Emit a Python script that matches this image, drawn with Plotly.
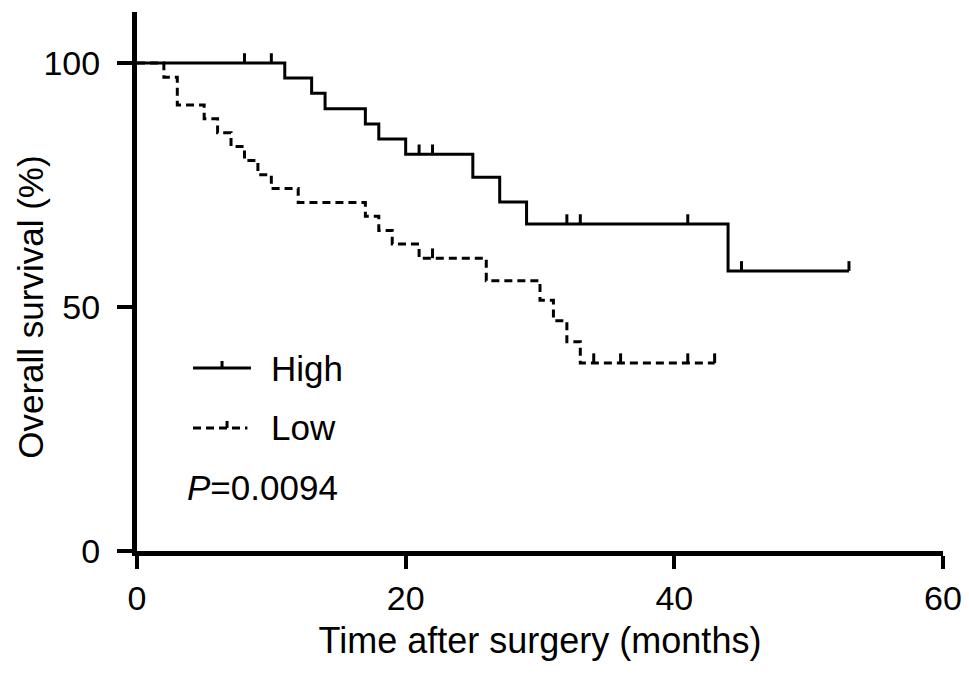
import plotly.graph_objects as go

# ---- data ----
high_times = [0, 11, 13, 14, 17, 18, 20, 25, 27, 29, 44, 53]
high_surv = [100, 96.9, 93.8, 90.6, 87.5, 84.4, 81.3, 76.6, 71.5, 67.0, 57.4, 57.4]
high_censor = [8, 10, 21, 22, 32, 33, 41, 45, 53]

low_times = [0, 2, 3, 5, 6, 7, 8, 9, 10, 12, 17, 18, 19, 21, 26, 30, 31, 32, 33, 43]
low_surv = [100, 97.1, 91.4, 88.6, 85.7, 82.9, 80.0, 77.1, 74.3, 71.4, 68.6, 65.7,
            62.9, 60.0, 55.4, 51.4, 47.2, 42.9, 38.5, 38.5]
low_censor = [22, 34, 36, 41, 43]

x_ticks = [0, 20, 40, 60]
y_ticks = [0, 50, 100]
p_value = "0.0094"

FONT = "Liberation Sans, Arial, sans-serif"
LW = 3
TICK_H = 2.0  # censor tick height in % units


def surv_at(times, surv, t):
    s = surv[0]
    for ti, si in zip(times, surv):
        if ti <= t:
            s = si
    return s


def censor_xy(times, surv, cens):
    xs, ys = [], []
    for c in cens:
        s = surv_at(times, surv, c)
        xs += [c, c, None]
        ys += [s, s + TICK_H, None]
    return xs, ys


fig = go.Figure()

fig.add_trace(go.Scatter(x=high_times, y=high_surv, mode="lines",
                         line=dict(color="black", width=LW, shape="hv"),
                         showlegend=False, hoverinfo="skip"))
hx, hy = censor_xy(high_times, high_surv, high_censor)
fig.add_trace(go.Scatter(x=hx, y=hy, mode="lines",
                         line=dict(color="black", width=LW),
                         showlegend=False, hoverinfo="skip"))

fig.add_trace(go.Scatter(x=low_times, y=low_surv, mode="lines",
                         line=dict(color="black", width=LW, shape="hv", dash="8px,5px"),
                         showlegend=False, hoverinfo="skip"))
lx, ly = censor_xy(low_times, low_surv, low_censor)
fig.add_trace(go.Scatter(x=lx, y=ly, mode="lines",
                         line=dict(color="black", width=LW),
                         showlegend=False, hoverinfo="skip"))

# ---- hand-drawn legend (paper coords) ----
shapes = [
    dict(type="line", xref="paper", yref="paper", x0=0.0695, x1=0.1414, y0=0.3395, y1=0.3395,
         line=dict(color="black", width=LW)),
    dict(type="line", xref="paper", yref="paper", x0=0.1055, x1=0.1055, y0=0.3395, y1=0.3525,
         line=dict(color="black", width=LW)),
    dict(type="line", xref="paper", yref="paper", x0=0.0695, x1=0.1370, y0=0.2283, y1=0.2283,
         line=dict(color="black", width=LW, dash="8px,5px")),
    dict(type="line", xref="paper", yref="paper", x0=0.1117, x1=0.1117, y0=0.2283, y1=0.2413,
         line=dict(color="black", width=LW)),
]

annotations = [
    dict(text="High", xref="paper", yref="paper", x=0.164, y=0.3395, xanchor="left",
         yanchor="middle", showarrow=False, font=dict(family=FONT, size=35, color="black")),
    dict(text="Low", xref="paper", yref="paper", x=0.164, y=0.2283, xanchor="left",
         yanchor="middle", showarrow=False, font=dict(family=FONT, size=35, color="black")),
    dict(text="<i>P</i>=" + p_value, xref="paper", yref="paper", x=0.060, y=0.1187,
         xanchor="left", yanchor="middle", showarrow=False,
         font=dict(family=FONT, size=35, color="black")),
    dict(text="Overall survival (%)", xref="paper", yref="y", x=-0.133, y=50,
         xanchor="center", yanchor="middle", textangle=-90, showarrow=False,
         font=dict(family=FONT, size=35, color="black")),
]

# page body has an 8px margin: figure is 961x668 so the plot lands where the reference's is
fig.update_layout(
    width=961, height=668,
    margin=dict(l=129, r=26, t=4, b=125, pad=0),
    paper_bgcolor="white", plot_bgcolor="white",
    font=dict(family=FONT, color="black"),
    shapes=shapes, annotations=annotations,
    showlegend=False,
)

fig.update_xaxes(range=[0, 60], tickvals=x_ticks, ticktext=[str(v) for v in x_ticks],
                 showline=True, linecolor="black", linewidth=5,
                 ticks="outside", ticklen=13, tickwidth=4, tickcolor="black",
                 showgrid=False, zeroline=False,
                 tickfont=dict(family=FONT, size=34, color="black"),
                 title=dict(text="Time after surgery (months)",
                            font=dict(family=FONT, size=36, color="black"), standoff=14),
                 automargin=False)
fig.update_yaxes(range=[0, 110.45], tickvals=y_ticks, ticktext=[str(v) for v in y_ticks],
                 showline=True, linecolor="black", linewidth=5,
                 ticks="outside", ticklen=15, tickwidth=4, tickcolor="black",
                 showgrid=False, zeroline=False,
                 tickfont=dict(family=FONT, size=34, color="black"),
                 ticklabelstandoff=10,
                 automargin=False)

fig.write_html("out.html")
